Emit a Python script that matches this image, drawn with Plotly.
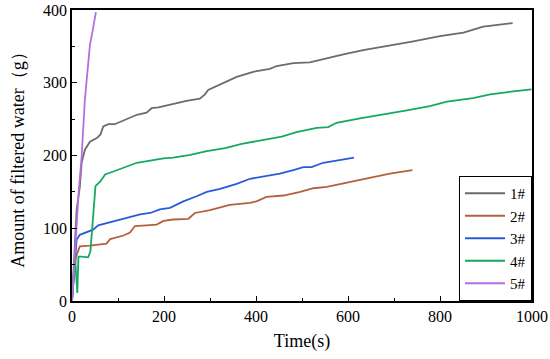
import plotly.graph_objects as go

t1 = [0, 5, 10, 17, 21, 28, 39, 54, 62, 68, 79, 93, 108, 119, 141, 162, 173, 188, 213, 249, 278, 289, 296, 329, 358, 394, 430, 445, 481, 517, 554, 590, 633, 691, 742, 800, 851, 894, 938, 958]
v1 = [0, 60, 125, 157, 190, 208, 219, 224, 229, 240, 243, 243, 247, 251, 256, 259, 265, 266, 270, 275, 278, 284, 290, 300, 308, 315, 319, 323, 327, 328, 334, 339, 345, 351, 357, 364, 369, 377, 381, 382]

t2 = [0, 4, 8.7, 17, 39, 75, 83, 112, 126, 137, 162, 184, 199, 220, 253, 267, 300, 329, 343, 387, 401, 423, 460, 496, 525, 554, 590, 626, 655, 691, 740]
v2 = [0, 35, 61, 75, 76, 79, 85, 90, 94, 103, 104, 105, 110, 112, 113, 121, 125, 130, 132, 135, 137, 143, 145, 150, 155, 157, 162, 167, 171, 175, 180]

t3 = [0, 5, 10, 17, 28, 46, 57, 83, 108, 126, 148, 170, 191, 213, 242, 271, 293, 322, 358, 387, 423, 452, 481, 503, 521, 546, 575, 597, 613]
v3 = [0, 50, 84, 91, 94, 98, 104, 108, 112, 115, 119, 121, 126, 128, 137, 144, 150, 154, 161, 168, 172, 175, 180, 184, 184, 190, 193, 195, 197]

t4 = [0, 6.5, 11.5, 14, 21, 32, 35, 40, 51, 61, 72, 90, 119, 141, 170, 199, 220, 257, 293, 333, 369, 409, 456, 488, 532, 557, 575, 626, 677, 728, 778, 815, 872, 909, 959, 999]
v4 = [0, 61, 11, 61, 61, 61, 60, 68, 158, 164, 174, 178, 185, 190, 193, 196, 197, 201, 206, 210, 216, 221, 226, 232, 238, 239, 245, 251, 256, 262, 268, 274, 279, 284, 288, 291]

t5 = [0, 5, 10, 15, 17.4, 21, 28, 35, 39, 45, 52]
v5 = [0, 55, 115, 155, 171, 199, 277, 330, 352, 372, 397]

names = ["1#", "2#", "3#", "4#", "5#"]
colors = ["#6b6b6b", "#b5603c", "#2a5bd7", "#16a862", "#b46ee0"]
series = [(t1, v1), (t2, v2), (t3, v3), (t4, v4), (t5, v5)]

x_ticks = [0, 200, 400, 600, 800, 1000]
y_ticks = [0, 100, 200, 300, 400]

fig = go.Figure()
for (t, v), n, c in zip(series, names, colors):
    fig.add_trace(go.Scatter(x=t, y=v, name=n, mode="lines",
                             line=dict(color=c, width=1.8)))

font = "Liberation Serif, Times New Roman, serif"
axis_common = dict(showline=True, linecolor="black", linewidth=1.6, mirror=True,
                   ticks="inside", ticklen=5, tickwidth=1.4, tickcolor="black",
                   showgrid=False, zeroline=False, automargin=False,
                   tickfont=dict(family=font, size=16, color="black"))
fig.update_xaxes(range=[0, 1000], tickvals=x_ticks,
                 minor=dict(ticks="inside", dtick=100, ticklen=3, tickwidth=1.2, tickcolor="black"),
                 title=dict(text="Time(s)", font=dict(family=font, size=18, color="black"), standoff=10),
                 **axis_common)
fig.update_yaxes(range=[0, 400], tickvals=y_ticks,
                 minor=dict(ticks="inside", dtick=50, ticklen=3, tickwidth=1.2, tickcolor="black"),
                 title=dict(text="Amount of filtered water（g）", font=dict(family=font, size=18, color="black"), standoff=14),
                 **axis_common)

fig.update_layout(
    width=550, height=359,
    margin=dict(l=72, r=18, t=10, b=58),
    plot_bgcolor="white", paper_bgcolor="white",
    legend=dict(x=1, y=0, xanchor="right", yanchor="bottom",
                bordercolor="black", borderwidth=1, bgcolor="white",
                font=dict(family=font, size=15, color="black"),
                tracegroupgap=0, itemwidth=40),
    showlegend=True,
)

fig.write_html("out.html", config={"displayModeBar": False},
               post_script="document.body.style.margin='0';document.body.style.overflow='hidden';")
